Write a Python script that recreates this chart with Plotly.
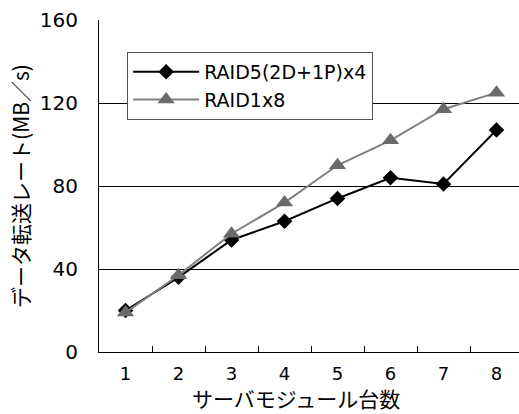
import plotly.graph_objects as go

servers = [1, 2, 3, 4, 5, 6, 7, 8]
raid5 = [20, 36, 54, 63, 74, 84, 81, 107]
raid1 = [19, 37, 57, 72, 90, 102, 117, 125]
series_names = ["RAID5(2D+1P)x4", "RAID1x8"]
y_ticks = [0, 40, 80, 120, 160]
x_title = "サーバモジュール台数"
y_title = "データ転送レート(MB／s)"

num_font = "DejaVu Sans, Liberation Sans, Arial, sans-serif"
jp_font = "Noto Sans CJK JP, sans-serif"

fig = go.Figure()
fig.add_trace(go.Scatter(
    x=servers, y=raid5, name=series_names[0], mode="lines+markers",
    line=dict(color="#000000", width=2),
    marker=dict(symbol="diamond", size=12, color="#000000"),
))
fig.add_trace(go.Scatter(
    x=servers, y=raid1, name=series_names[1], mode="lines+markers",
    line=dict(color="#808080", width=2),
    marker=dict(symbol="triangle-up", size=15, color="#6a6a6a"),
))

fig.add_annotation(
    text=x_title, xref="paper", yref="paper", x=0.47, y=-62 / 332,
    xanchor="center", yanchor="bottom", showarrow=False, yshift=0,
    borderpad=0,
    font=dict(family=jp_font, size=21, color="black"),
)

fig.update_layout(
    width=519, height=414,
    margin=dict(l=99, r=0, t=20, b=62),
    paper_bgcolor="white", plot_bgcolor="white",
    font=dict(family=num_font, size=20, color="black"),
    showlegend=True,
    legend=dict(
        x=0.067, y=0.904, xanchor="left", yanchor="top",
        bgcolor="white", bordercolor="#555555", borderwidth=1,
        font=dict(family=num_font, size=19, color="black"),
        itemwidth=66, tracegroupgap=0,
    ),
    xaxis=dict(
        range=[0.5, 0.5 + 420 / 53], tickvals=servers,
        ticktext=[str(s) for s in servers],
        ticks="", showgrid=False, zeroline=False,
        showline=True, linecolor="black", linewidth=1,
        ticklabelstandoff=5,
        tickfont=dict(size=18),
        minor=dict(tickvals=[s + 0.5 for s in servers[:-1]], ticks="inside",
                   ticklen=6, tickcolor="black", showgrid=False),
        fixedrange=True,
    ),
    yaxis=dict(
        range=[0, 160], tickvals=y_ticks, ticks="", showgrid=True,
        gridcolor="black", gridwidth=1, zeroline=False,
        showline=True, linecolor="black", linewidth=1,
        ticklabelstandoff=16,
        tickfont=dict(size=20),
        title=dict(text=y_title, font=dict(family=jp_font, size=21), standoff=4),
        fixedrange=True,
    ),
)

fig.write_html("out.html")
